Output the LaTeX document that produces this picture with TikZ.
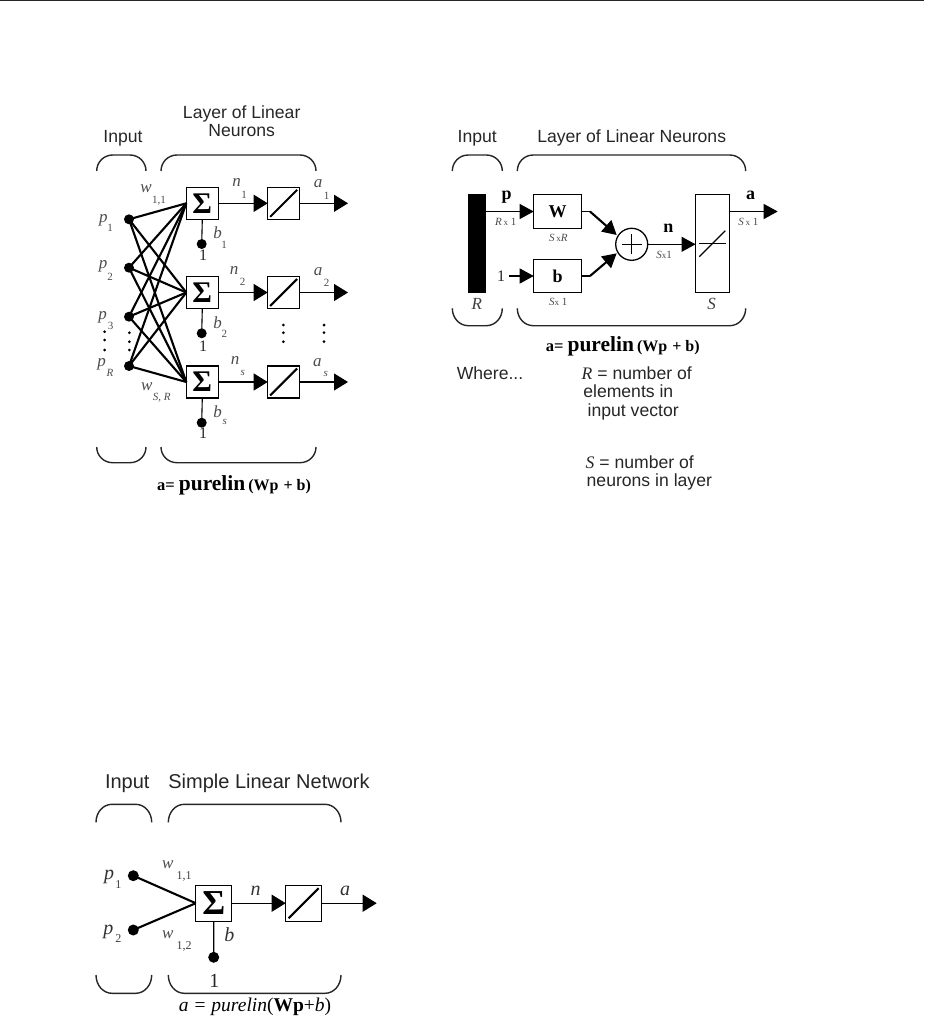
\documentclass[tikz,border=0pt]{standalone}
\usepackage{fontspec}
\setmainfont{Liberation Serif}
\newfontfamily\hv{Liberation Sans}
\usetikzlibrary{arrows.meta}
\newcommand{\fs}[1]{\fontsize{#1}{#1}\selectfont}
\newcommand{\bracepath}[4]{\draw[bracel] (#1,#3) .. controls (#1,#3*0.45+#4*0.55) and (#1+7,#4) .. (#1+16,#4) -- (#2-16,#4) .. controls (#2-7,#4) and (#2,#3*0.45+#4*0.55) .. (#2,#3);}
\tikzset{
 every node/.style={inner sep=0pt,outer sep=0pt},
 wire/.style={line width=1.1pt,black},
 weight/.style={line width=2.1pt,black},
 bracel/.style={line width=1.4pt,black!85},
 sbox/.style={draw,line width=1.1pt,minimum size=32pt,fill=white},
 lbox/.style={draw,line width=1.1pt,minimum size=36pt,fill=white},
 sigma/.style={font=\bfseries\fs{30}},
 sigmab/.style={font=\bfseries\fs{35}},
 dotn/.style={circle,fill=black,minimum size=10pt},
 head/.style={-{Triangle[length=14pt,width=17pt]}},
 headb/.style={-{Triangle[length=14pt,width=15pt]}},
 sans/.style={font=\hv\fs{17.6},text=black!85,text height=13pt,text depth=3pt},
 sansb/.style={font=\hv\fs{20},text=black!85,text height=13pt,text depth=3pt},
 ital/.style={font=\itshape\fs{17},text=black!70},
 sub/.style={font=\itshape\fs{11},text=black!70},
 italb/.style={font=\itshape\fs{20},text=black!80},
 subb/.style={font=\itshape\fs{12},text=black!75},
 one/.style={font=\fs{16},text=black!85},
 dim/.style={font=\fs{11},text=black!70},
 bold/.style={font=\bfseries\fs{18}},
 vdot/.style={circle,fill=black,minimum size=3pt},
}
\begin{document}
\begin{tikzpicture}[x=1pt,y=-1pt]
\useasboundingbox (0,0) rectangle (924,1017);
\draw[line width=1.3pt,black!85] (0,0.6) -- (924,0.6);

% ---------- Diagram 1 ----------
\node[sans] (t1in) at (123,137.5) {Input};
\node[sans] (t1la) at (241.7,113) {Layer of Linear};
\node[sans] (t1lb) at (241.7,131.5) {Neurons};
\bracepath{96.7}{146}{171}{155}
\bracepath{161}{316}{171}{155}
\bracepath{96.7}{146}{447}{462.7}
\bracepath{161}{316}{447}{462.7}

\node[dotn] (p1) at (129,219.3) {};
\node[dotn] (p2) at (129,267.7) {};
\node[dotn] (p3) at (129,316.7) {};
\node[dotn] (pr) at (129,366) {};
\node[sbox,sigma] (s1) at (202.3,203.3) {Σ};
\node[sbox,sigma] (s2) at (202.3,292.5) {Σ};
\node[sbox,sigma] (s3) at (202.3,382) {Σ};
\foreach \a in {p1,p2,p3,pr}\foreach \b in {s1,s2,s3}{\draw[weight] (\a.center) -- (\b.west);}
\node[sbox] (t1) at (283.7,203.3) {};
\node[sbox] (t2) at (283.7,292.5) {};
\node[sbox] (t3) at (283.7,382) {};
\foreach \i in {1,2,3}{
  \draw[wire,head] (s\i.east) -- (t\i.west);
  \draw[weight] ([shift={(2.5,-2.5)}]t\i.south west) -- ([shift={(-2.5,2.5)}]t\i.north east);
}
\coordinate (o1) at (348,203.3);
\coordinate (o2) at (348,292.5);
\coordinate (o3) at (348,382);
\foreach \i in {1,2,3}{\draw[wire,head] (t\i.east) -- (o\i);}
\node[dotn] (b1) at (201.7,244) {};
\node[dotn] (b2) at (201.7,333.3) {};
\node[dotn] (b3) at (201.7,422.7) {};
\node[one] (u1) at (203,255) {1};
\node[one] (u2) at (203,346) {1};
\node[one] (u3) at (203,433) {1};
\foreach \i in {1,2,3}{\draw[wire] (s\i.south) -- (b\i.center);}

\node[ital] (lp1) at (103.3,220) {p};
\node[sub,font=\fs{11}] (lp1s) at (110,228) {1};
\node[ital] (lp2) at (103,266.5) {p};
\node[sub,font=\fs{11}] (lp2s) at (110,276.7) {2};
\node[ital] (lp3) at (102.7,317) {p};
\node[sub,font=\fs{11}] (lp3s) at (110.7,325.7) {3};
\node[ital] (lpr) at (101.7,364) {p};
\node[sub] (lprs) at (110,373.3) {R};
\node[ital] (lw1) at (146,188.5) {w};
\node[sub,font=\fs{11}] (lw1s) at (159,200.7) {1,1};
\node[ital] (lw2) at (146.7,387) {w};
\node[sub] (lw2s) at (161.7,397.7) {S, R};
\node[ital] (ln1) at (236.7,182) {n};
\node[sub,font=\fs{11}] (ln1s) at (244,195) {1};
\node[ital] (la1) at (318,184) {a};
\node[sub,font=\fs{11}] (la1s) at (326.7,196) {1};
\node[ital] (lb1) at (217.7,233) {b};
\node[sub,font=\fs{11}] (lb1s) at (224,245) {1};
\node[ital] (ln2) at (234,270) {n};
\node[sub,font=\fs{11}] (ln2s) at (242.7,281.7) {2};
\node[ital] (la2) at (318,271.7) {a};
\node[sub,font=\fs{11}] (la2s) at (326.7,282.7) {2};
\node[ital] (lb2) at (217.7,322.3) {b};
\node[sub,font=\fs{11}] (lb2s) at (224.3,334) {2};
\node[ital] (ln3) at (235,360.7) {n};
\node[sub] (ln3s) at (242.7,372.7) {s};
\node[ital] (la3) at (317.3,363) {a};
\node[sub] (la3s) at (325.7,374) {s};
\node[ital] (lb3) at (217.7,411.7) {b};
\node[sub] (lb3s) at (224.7,422.3) {s};
\foreach \n/\x/\y in {a/104.7/331.7,b/104.7/340,c/104.7/350,d/129.3/332.7,e/129.3/341.7,f/129.3/350,g/283.3/325,h/283.3/332.7,i/283.3/341.7,j/324/325,k/324/332.7,l/324/341.7}{
  \node[vdot] (vd\n) at (\x,\y) {};
}
\node (f1) at (234,485) {\bfseries\fs{16.5}a= \fs{21.5}purelin\kern3pt\fs{16}(Wp\kern1pt{} + b)};

% ---------- Diagram 2 ----------
\node[sans] (t2in) at (477.3,137.5) {Input};
\node[sans] (t2la) at (631.7,137.5) {Layer of Linear Neurons};
\bracepath{452.3}{502.3}{171}{155}
\bracepath{517.3}{745.7}{171}{155}
\bracepath{452.3}{502.3}{308.3}{325.7}
\bracepath{517.3}{745.7}{308.3}{325.7}
\node[fill=black,minimum width=18pt,minimum height=99pt] (bar) at (477.3,243.8) {};
\node[draw,line width=1.1pt,minimum width=48pt,minimum height=33.5pt,font=\bfseries\fs{18}] (W) at (557.7,211.5) {W};
\node[draw,line width=1.1pt,minimum width=48pt,minimum height=33.5pt,font=\bfseries\fs{18}] (B) at (557.7,276) {b};
\node[circle,draw,line width=1.3pt,minimum size=32pt] (sum) at (631.7,244.3) {};
\draw[line width=0.9pt] ([xshift=-10pt]sum.center) -- ([xshift=10pt]sum.center);
\draw[line width=0.9pt] ([yshift=-10pt]sum.center) -- ([yshift=10pt]sum.center);
\node[draw,line width=1.1pt,minimum width=33.5pt,minimum height=98pt] (S) at (712.3,243.7) {};
\draw[line width=1.1pt] ([xshift=-13.5pt]S.center) -- ([xshift=13.5pt]S.center);
\draw[line width=1.1pt] ([shift={(-13,13)}]S.center) -- ([shift={(13,-13)}]S.center);
\coordinate (barp) at (bar.east |- W.west);
\coordinate (one1) at (509.3,276);
\coordinate (wk) at (590,211.5);
\coordinate (bk) at (590,276);
\coordinate (wt) at (616.7,235);
\coordinate (bt) at (616.7,253.3);
\coordinate (o4) at (777.7,211.5);
\draw[wire,headb] (barp) -- (W.west);
\draw[wire,headb] (one1) -- (B.west);
\draw[wire] (W.east) -- (wk);
\draw[wire] (B.east) -- (bk);
\draw[weight,headb] (wk) -- (wt);
\draw[weight,headb] (bk) -- (bt);
\draw[wire,headb] (sum.east) -- (S.west |- sum.east);
\draw[wire,headb] (S.east |- o4) -- (o4);
\node[bold] (lp) at (506.7,197) {p};
\node[dim] (d1) at (505.7,222.3) {\itshape R\,\upshape\fs{9}x\fs{11} 1};
\node[one] (lone) at (501,276) {1};
\node[dim] (d2) at (558.3,238.3) {\itshape S\,\upshape\fs{9}x\itshape\fs{11}R};
\node[dim] (d3) at (558.3,302.3) {\itshape S\upshape\fs{9}x\fs{11} 1};
\node[bold] (ln) at (668.3,228) {n};
\node[dim] (d4) at (664,255) {\itshape S\upshape\fs{9}x\fs{11}1};
\node[bold] (la) at (750.7,195.7) {a};
\node[dim] (d5) at (748.3,221.7) {\itshape S\,\upshape\fs{9}x\fs{11} 1};
\node[font=\itshape\fs{17},text=black!75] (lR) at (476.7,304.3) {R};
\node[font=\itshape\fs{17},text=black!75] (lS) at (711.7,304.3) {S};
\node (f2) at (622.7,346.7) {\bfseries\fs{16.5}a= \fs{21.5}purelin\kern3pt\fs{16}(Wp\kern1pt{} + b)};
\node[sans] (where) at (490,374.3) {Where...};
\node[sans,anchor=west] (w1) at (581.7,374.3) {{\rmfamily\itshape R} = number of};
\node[sans,anchor=west] (w2) at (583.3,392.7) {elements in};
\node[sans,anchor=west] (w3) at (587.7,411) {input vector};
\node[sans,anchor=west] (w4) at (585.7,463.3) {{\rmfamily\itshape S} = number of};
\node[sans,anchor=west] (w5) at (586.7,481.7) {neurons in layer};

% ---------- Diagram 3 ----------
\node[sansb] (t3in) at (127.3,783.3) {Input};
\node[sansb] (t3la) at (269,783.3) {Simple Linear Network};
\bracepath{96}{151.7}{822.3}{804.3}
\bracepath{168.3}{341}{822.3}{804.3}
\bracepath{96}{151.7}{975}{993.3}
\bracepath{168.3}{341}{975}{993.3}
\node[dotn,minimum size=11pt] (q1) at (133.3,875.7) {};
\node[dotn,minimum size=11pt] (q2) at (133.3,930) {};
\node[lbox,sigmab] (sq) at (213.8,903.2) {Σ};
\node[lbox] (tq) at (303.7,903.2) {};
\coordinate (oq) at (376.7,903.2);
\node[dotn,minimum size=11pt] (bq) at (213.7,957.3) {};
\draw[weight] (q1.center) -- (sq.west);
\draw[weight] (q2.center) -- (sq.west);
\draw[wire,head] (sq.east) -- (tq.west);
\draw[wire,head] (tq.east) -- (oq);
\draw[wire] (sq.south) -- (bq.center);
\draw[weight] ([shift={(3,-3)}]tq.south west) -- ([shift={(-3,3)}]tq.north east);
\node[italb] (mp1) at (109,877) {p};
\node[subb,font=\fs{12}] (mp1s) at (118.3,884.3) {1};
\node[italb] (mp2) at (108.3,932) {p};
\node[subb,font=\fs{12}] (mp2s) at (118.3,939) {2};
\node[ital] (mw1) at (167.7,864.5) {w};
\node[subb,font=\fs{12}] (mw1s) at (184,876) {1,1};
\node[ital] (mw2) at (167.7,934.5) {w};
\node[subb,font=\fs{12}] (mw2s) at (184,946.7) {1,2};
\node[italb] (mn) at (255.7,890.5) {n};
\node[italb] (ma) at (345,890.5) {a};
\node[italb] (mb) at (229.3,935) {b};
\node[font=\fs{20},text=black!85] (mone) at (214.3,980.7) {1};
\node (f3) at (255,1007) {\fs{19.5}\itshape a = purelin\upshape(\bfseries Wp\mdseries+\itshape b\upshape)};
\end{tikzpicture}
\end{document}
